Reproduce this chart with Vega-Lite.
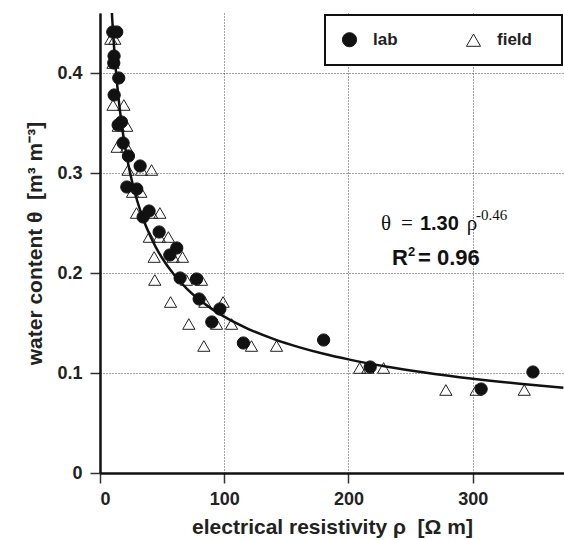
{
  "$schema": "https://vega.github.io/schema/vega-lite/v6.json",
  "width": 464,
  "height": 460,
  "autosize": "none",
  "padding": {"left": 100, "top": 13, "right": 0, "bottom": 67},
  "background": "white",
  "config": {
    "view": {"stroke": null},
    "font": "Liberation Sans",
    "axis": {
      "grid": true,
      "gridDash": [1, 2],
      "gridColor": "#444444",
      "gridWidth": 1,
      "domainColor": "#111111",
      "domainWidth": 2.5,
      "tickColor": "#333333",
      "tickWidth": 1.5,
      "tickSize": 10,
      "labelFont": "Liberation Sans",
      "labelFontWeight": "bold",
      "labelFontSize": 18,
      "labelColor": "#222222",
      "titleFont": "Liberation Sans",
      "titleFontWeight": "bold",
      "titleFontSize": 21,
      "titleColor": "#222222"
    },
    "legend": {
      "orient": "top-right",
      "direction": "horizontal",
      "offset": 2,
      "padding": 16,
      "fillColor": "white",
      "strokeColor": "#111111",
      "strokeWidth": 2,
      "labelFont": "Liberation Sans",
      "labelFontWeight": "bold",
      "labelFontSize": 17,
      "labelColor": "#222222",
      "labelOffset": 15,
      "columnPadding": 66,
      "symbolSize": 200,
      "symbolStrokeWidth": 1,
      "symbolStrokeColor": "#111111",
      "titleOrient": "right",
      "titleOpacity": 0,
      "titleFontSize": 7,
      "titlePadding": 2
    }
  },
  "datasets": {
    "pts": [
      {"rho": 8.7, "theta": 0.434, "type": "field"},
      {"rho": 11.9, "theta": 0.434, "type": "field"},
      {"rho": 10.5, "theta": 0.410, "type": "field"},
      {"rho": 10.5, "theta": 0.368, "type": "field"},
      {"rho": 19.2, "theta": 0.368, "type": "field"},
      {"rho": 14.7, "theta": 0.347, "type": "field"},
      {"rho": 21.5, "theta": 0.347, "type": "field"},
      {"rho": 13.8, "theta": 0.326, "type": "field"},
      {"rho": 21.5, "theta": 0.326, "type": "field"},
      {"rho": 22.6, "theta": 0.303, "type": "field"},
      {"rho": 33.4, "theta": 0.303, "type": "field"},
      {"rho": 41.5, "theta": 0.303, "type": "field"},
      {"rho": 26.2, "theta": 0.281, "type": "field"},
      {"rho": 32.9, "theta": 0.281, "type": "field"},
      {"rho": 29.4, "theta": 0.260, "type": "field"},
      {"rho": 41.5, "theta": 0.260, "type": "field"},
      {"rho": 48.2, "theta": 0.260, "type": "field"},
      {"rho": 39.7, "theta": 0.236, "type": "field"},
      {"rho": 47.7, "theta": 0.236, "type": "field"},
      {"rho": 55.0, "theta": 0.236, "type": "field"},
      {"rho": 43.6, "theta": 0.216, "type": "field"},
      {"rho": 58.9, "theta": 0.216, "type": "field"},
      {"rho": 66.4, "theta": 0.216, "type": "field"},
      {"rho": 44.1, "theta": 0.193, "type": "field"},
      {"rho": 69.6, "theta": 0.193, "type": "field"},
      {"rho": 81.7, "theta": 0.193, "type": "field"},
      {"rho": 56.8, "theta": 0.171, "type": "field"},
      {"rho": 84.4, "theta": 0.171, "type": "field"},
      {"rho": 99.1, "theta": 0.171, "type": "field"},
      {"rho": 71.5, "theta": 0.149, "type": "field"},
      {"rho": 93.8, "theta": 0.149, "type": "field"},
      {"rho": 105.9, "theta": 0.149, "type": "field"},
      {"rho": 83.6, "theta": 0.127, "type": "field"},
      {"rho": 121.9, "theta": 0.127, "type": "field"},
      {"rho": 142.1, "theta": 0.127, "type": "field"},
      {"rho": 209.0, "theta": 0.105, "type": "field"},
      {"rho": 215.6, "theta": 0.105, "type": "field"},
      {"rho": 228.3, "theta": 0.105, "type": "field"},
      {"rho": 278.4, "theta": 0.083, "type": "field"},
      {"rho": 302.8, "theta": 0.083, "type": "field"},
      {"rho": 341.5, "theta": 0.083, "type": "field"},
      {"rho": 10.3, "theta": 0.441, "type": "lab"},
      {"rho": 13.5, "theta": 0.441, "type": "lab"},
      {"rho": 11.3, "theta": 0.417, "type": "lab"},
      {"rho": 11.1, "theta": 0.410, "type": "lab"},
      {"rho": 15.1, "theta": 0.395, "type": "lab"},
      {"rho": 11.4, "theta": 0.378, "type": "lab"},
      {"rho": 17.3, "theta": 0.351, "type": "lab"},
      {"rho": 14.6, "theta": 0.348, "type": "lab"},
      {"rho": 18.6, "theta": 0.330, "type": "lab"},
      {"rho": 22.9, "theta": 0.317, "type": "lab"},
      {"rho": 32.3, "theta": 0.307, "type": "lab"},
      {"rho": 21.6, "theta": 0.286, "type": "lab"},
      {"rho": 29.6, "theta": 0.284, "type": "lab"},
      {"rho": 39.5, "theta": 0.262, "type": "lab"},
      {"rho": 34.7, "theta": 0.256, "type": "lab"},
      {"rho": 47.6, "theta": 0.241, "type": "lab"},
      {"rho": 61.8, "theta": 0.225, "type": "lab"},
      {"rho": 56.2, "theta": 0.218, "type": "lab"},
      {"rho": 64.5, "theta": 0.195, "type": "lab"},
      {"rho": 77.7, "theta": 0.194, "type": "lab"},
      {"rho": 79.8, "theta": 0.174, "type": "lab"},
      {"rho": 96.5, "theta": 0.164, "type": "lab"},
      {"rho": 90.0, "theta": 0.151, "type": "lab"},
      {"rho": 115.4, "theta": 0.130, "type": "lab"},
      {"rho": 180.0, "theta": 0.133, "type": "lab"},
      {"rho": 217.5, "theta": 0.106, "type": "lab"},
      {"rho": 306.8, "theta": 0.084, "type": "lab"},
      {"rho": 348.5, "theta": 0.101, "type": "lab"}
    ],
    "fit": [
      {"rho": 9.5, "theta": 0.4615},
      {"rho": 10, "theta": 0.4507},
      {"rho": 11, "theta": 0.4315},
      {"rho": 12, "theta": 0.4144},
      {"rho": 13, "theta": 0.3995},
      {"rho": 14, "theta": 0.3861},
      {"rho": 15, "theta": 0.3740},
      {"rho": 17, "theta": 0.3531},
      {"rho": 20, "theta": 0.3277},
      {"rho": 23, "theta": 0.3073},
      {"rho": 26, "theta": 0.2905},
      {"rho": 30, "theta": 0.2720},
      {"rho": 35, "theta": 0.2533},
      {"rho": 40, "theta": 0.2383},
      {"rho": 45, "theta": 0.2257},
      {"rho": 50, "theta": 0.2150},
      {"rho": 60, "theta": 0.1977},
      {"rho": 70, "theta": 0.1842},
      {"rho": 80, "theta": 0.1732},
      {"rho": 90, "theta": 0.1641},
      {"rho": 100, "theta": 0.1563},
      {"rho": 120, "theta": 0.1437},
      {"rho": 140, "theta": 0.1339},
      {"rho": 160, "theta": 0.1259},
      {"rho": 180, "theta": 0.1192},
      {"rho": 200, "theta": 0.1136},
      {"rho": 230, "theta": 0.1066},
      {"rho": 260, "theta": 0.1008},
      {"rho": 300, "theta": 0.0943},
      {"rho": 340, "theta": 0.0890},
      {"rho": 373, "theta": 0.0853}
    ]
  },
  "layer": [
    {
      "data": {"name": "pts"},
      "mark": {"type": "point", "size": 150, "strokeWidth": 1, "opacity": 1},
      "encoding": {
        "x": {
          "field": "rho", "type": "quantitative",
          "scale": {"domain": [0, 373.5], "nice": false, "zero": false},
          "axis": {"values": [0, 100, 200, 300], "title": "electrical resistivity ρ\u00a0\u00a0[Ω m]", "labelPadding": 7, "titlePadding": 8}
        },
        "y": {
          "field": "theta", "type": "quantitative",
          "scale": {"domain": [0, 0.46], "nice": false, "zero": false},
          "axis": {"values": [0, 0.1, 0.2, 0.3, 0.4], "format": ".1~f", "title": "water content θ\u00a0\u00a0[m³ m⁻³]", "labelPadding": 8, "titlePadding": 11}
        },
        "shape": {
          "field": "type", "type": "nominal",
          "scale": {"domain": ["lab", "field"], "range": ["circle", "triangle-up"]},
          "legend": {"title": "MM"}
        },
        "fill": {
          "field": "type", "type": "nominal",
          "scale": {"domain": ["lab", "field"], "range": ["#111111", "transparent"]},
          "legend": {"title": "MM"}
        },
        "stroke": {
          "field": "type", "type": "nominal",
          "scale": {"domain": ["lab", "field"], "range": ["#111111", "#222222"]},
          "legend": {"title": "MM"}
        }
      }
    },
    {
      "data": {"name": "fit"},
      "mark": {"type": "line", "color": "#111111", "strokeWidth": 2.5, "interpolate": "monotone", "clip": true},
      "encoding": {
        "x": {"field": "rho", "type": "quantitative"},
        "y": {"field": "theta", "type": "quantitative"}
      }
    },
    {
      "mark": {"type": "rule", "color": "#111111", "strokeWidth": 2.5},
      "encoding": {"y": {"datum": 0.46}}
    },
    {
      "data": {"values": [
        {"rho": 226.1, "theta": 0.243, "label": "θ"},
        {"rho": 242.2, "theta": 0.243, "label": "="},
        {"rho": 295.3, "theta": 0.243, "label": "ρ"}
      ]},
      "mark": {"type": "text", "align": "left", "baseline": "alphabetic", "font": "Liberation Serif", "fontSize": 21, "color": "#111111"},
      "encoding": {
        "x": {"field": "rho", "type": "quantitative"},
        "y": {"field": "theta", "type": "quantitative"},
        "text": {"field": "label"}
      }
    },
    {
      "data": {"values": [
        {"rho": 257.5, "theta": 0.243, "label": "1.30"}
      ]},
      "mark": {"type": "text", "align": "left", "baseline": "alphabetic", "font": "Liberation Sans", "fontWeight": "bold", "fontSize": 20, "color": "#111111"},
      "encoding": {
        "x": {"field": "rho", "type": "quantitative"},
        "y": {"field": "theta", "type": "quantitative"},
        "text": {"field": "label"}
      }
    },
    {
      "data": {"values": [
        {"rho": 302.6, "theta": 0.253, "label": "-0.46"}
      ]},
      "mark": {"type": "text", "align": "left", "baseline": "alphabetic", "font": "Liberation Serif", "fontSize": 15, "color": "#111111"},
      "encoding": {
        "x": {"field": "rho", "type": "quantitative"},
        "y": {"field": "theta", "type": "quantitative"},
        "text": {"field": "label"}
      }
    },
    {
      "data": {"values": [
        {"rho": 235.0, "theta": 0.208, "label": "R"},
        {"rho": 256.0, "theta": 0.208, "label": "= 0.96"}
      ]},
      "mark": {"type": "text", "align": "left", "baseline": "alphabetic", "font": "Liberation Sans", "fontWeight": "bold", "fontSize": 22, "color": "#111111"},
      "encoding": {
        "x": {"field": "rho", "type": "quantitative"},
        "y": {"field": "theta", "type": "quantitative"},
        "text": {"field": "label"}
      }
    },
    {
      "data": {"values": [
        {"rho": 247.9, "theta": 0.217, "label": "2"}
      ]},
      "mark": {"type": "text", "align": "left", "baseline": "alphabetic", "font": "Liberation Sans", "fontWeight": "bold", "fontSize": 13, "color": "#111111"},
      "encoding": {
        "x": {"field": "rho", "type": "quantitative"},
        "y": {"field": "theta", "type": "quantitative"},
        "text": {"field": "label"}
      }
    }
  ]
}
